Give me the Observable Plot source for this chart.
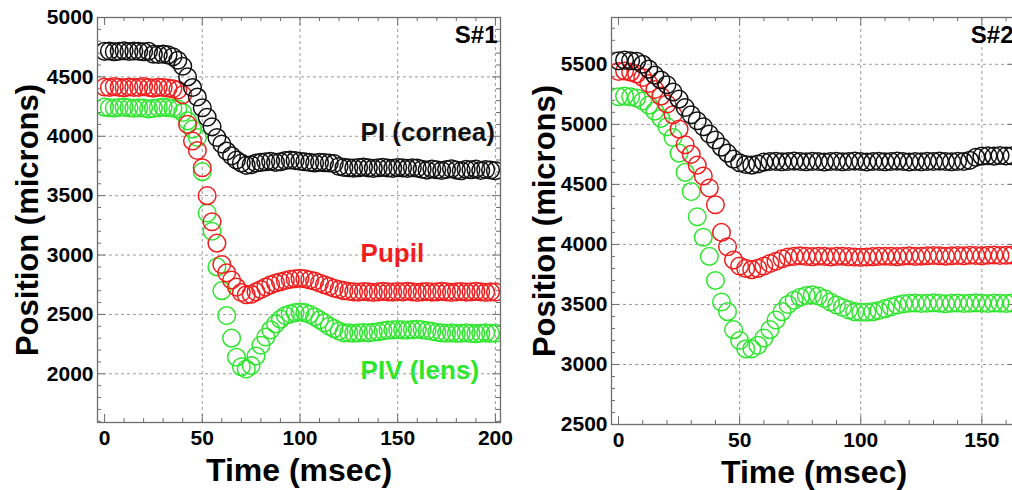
<!DOCTYPE html>
<html><head><meta charset="utf-8">
<script src="https://cdn.jsdelivr.net/npm/d3@7"></script>
<script src="https://cdn.jsdelivr.net/npm/@observablehq/plot@0.6"></script>
<style>
body{margin:0;background:#fff}
#wrap{position:relative;width:1012px;height:490px;overflow:hidden;background:#fff}
#wrap svg{position:absolute;top:0}
</style></head><body><div id="wrap"></div>
<script>
// ---------- data ----------
const timeS1 = [0,2.5,5,7.5,10,12.5,15,17.5,20,22.5,25,27.5,30,32.5,35,37.5,40,42.5,45,47.5,50,52.5,55,57.5,60,62.5,65,67.5,70,72.5,75,77.5,80,82.5,85,87.5,90,92.5,95,97.5,100,102.5,105,107.5,110,112.5,115,117.5,120,122.5,125,127.5,130,132.5,135,137.5,140,142.5,145,147.5,150,152.5,155,157.5,160,162.5,165,167.5,170,172.5,175,177.5,180,182.5,185,187.5,190,192.5,195,197.5,200];
const corneaS1 = [4715,4718,4712,4716,4720,4714,4718,4716,4712,4715,4690,4688,4692,4685,4670,4640,4590,4500,4410,4330,4240,4160,4080,3990,3935,3875,3835,3800,3775,3755,3760,3775,3780,3785,3790,3780,3785,3795,3800,3795,3790,3785,3780,3775,3780,3778,3775,3770,3745,3738,3735,3732,3736,3740,3734,3730,3735,3738,3733,3730,3736,3734,3730,3735,3732,3722,3715,3725,3718,3712,3720,3726,3715,3710,3722,3718,3725,3712,3720,3716,3710];
const pupilS1 = [4415,4410,4418,4412,4408,4415,4410,4412,4418,4410,4405,4412,4410,4405,4400,4390,4350,4100,3960,3880,3735,3500,3280,3100,2920,2850,2790,2730,2685,2665,2670,2690,2710,2730,2750,2765,2775,2785,2795,2800,2805,2800,2790,2780,2765,2750,2735,2720,2710,2700,2695,2690,2688,2692,2690,2686,2690,2694,2690,2688,2692,2690,2695,2690,2686,2690,2692,2688,2690,2694,2690,2686,2690,2692,2688,2690,2694,2690,2686,2690,2688];
const lensS1 = [4245,4240,4238,4242,4245,4240,4236,4240,4238,4230,4235,4240,4245,4240,4238,4230,4200,4130,4060,3990,3702,3354,3200,2900,2700,2490,2300,2140,2060,2040,2070,2150,2240,2310,2370,2420,2460,2490,2505,2515,2520,2515,2500,2480,2455,2430,2400,2380,2360,2345,2345,2342,2345,2348,2345,2350,2355,2362,2368,2370,2372,2370,2368,2372,2375,2370,2365,2358,2350,2345,2342,2345,2340,2342,2345,2340,2338,2342,2345,2340,2342];

const timeS2 = [0,2.5,5,7.5,10,12.5,15,17.5,20,22.5,25,27.5,30,32.5,35,37.5,40,42.5,45,47.5,50,52.5,55,57.5,60,62.5,65,67.5,70,72.5,75,77.5,80,82.5,85,87.5,90,92.5,95,97.5,100,102.5,105,107.5,110,112.5,115,117.5,120,122.5,125,127.5,130,132.5,135,137.5,140,142.5,145,147.5,150,152.5,155,157.5,160,162.5];
const corneaS2 = [5530,5535,5530,5525,5500,5460,5410,5370,5330,5270,5210,5140,5080,5030,4980,4920,4870,4810,4760,4710,4680,4665,4660,4670,4685,4690,4692,4688,4690,4694,4690,4688,4692,4690,4686,4690,4692,4688,4690,4694,4690,4686,4690,4692,4688,4690,4694,4690,4686,4690,4688,4692,4690,4694,4690,4688,4692,4690,4700,4725,4735,4738,4735,4740,4736,4738];
const pupilS2 = [5440,5445,5435,5420,5390,5340,5290,5235,5170,5080,4960,4830,4750,4660,4570,4470,4330,4100,3980,3870,3820,3800,3790,3800,3820,3840,3860,3880,3895,3900,3905,3900,3898,3902,3900,3896,3900,3902,3898,3895,3892,3895,3898,3900,3902,3900,3898,3902,3905,3900,3902,3905,3908,3905,3902,3906,3908,3905,3910,3908,3905,3910,3912,3908,3910,3912];
const lensS2 = [5230,5235,5230,5220,5195,5160,5110,5050,4980,4890,4760,4600,4440,4230,4060,3900,3700,3520,3440,3290,3200,3130,3130,3160,3220,3290,3370,3440,3500,3535,3560,3575,3580,3570,3550,3520,3495,3475,3455,3440,3435,3435,3440,3450,3465,3480,3495,3505,3510,3512,3508,3510,3514,3510,3506,3510,3512,3508,3510,3514,3510,3508,3512,3510,3508,3512];

const seriesNames = ["PIV (lens)", "Pupil", "PI (cornea)"];
const seriesColors = ["#2fe62f", "#f01e1e", "#111111"];

// tick labels / tick positions
const xMajorS1 = [0,50,100,150,200];
const xGridS1 = [50,100,150,200];
const xMinorS1 = [10,20,30,40,60,70,80,90,110,120,130,140,160,170,180,190];
const yMajorS1 = [2000,2500,3000,3500,4000,4500,5000];
const yGridS1 = [2000,2500,3000,3500,4000,4500];
const yMinorS1 = [1600,1700,1800,1900,2100,2200,2300,2400,2600,2700,2800,2900,3100,3200,3300,3400,3600,3700,3800,3900,4100,4200,4300,4400,4600,4700,4800,4900];

const xMajorS2 = [0,50,100,150];
const xGridS2 = [50,100,150];
const xMinorS2 = [10,20,30,40,60,70,80,90,110,120,130,140,160];
const yMajorS2 = [2500,3000,3500,4000,4500,5000,5500];
const yGridS2 = [3000,3500,4000,4500,5000,5500];
const yMinorS2 = [2600,2700,2800,2900,3100,3200,3300,3400,3600,3700,3800,3900,4100,4200,4300,4400,4600,4700,4800,4900,5100,5200,5300,5400,5600,5700,5800];

// annotations (data coordinates)
const labelsS1 = [
  {text: "PI (cornea)", x: 131, y: 4030, color: "#111111"},
  {text: "Pupil", x: 131, y: 3015, color: "#f01e1e"},
  {text: "PIV (lens)", x: 131, y: 2030, color: "#2fe62f"}
];

// ---------- build ----------
function rows(time, arrs) {
  const out = [];
  arrs.forEach((vals, k) => vals.forEach((v, i) => out.push({t: time[i], v, s: seriesNames[k]})));
  return out;
}

function panel(cfg) {
  const H = cfg.height - cfg.mt - cfg.mb;
  const W = cfg.width - cfg.ml - cfg.mr;
  const tickStroke = "#6e6e6e";
  const data = rows(cfg.time, cfg.series);
  const marks = [
    Plot.ruleX(cfg.xGrid, {stroke: "#9a9a9a", strokeDasharray: "3,3", strokeWidth: 1}),
    Plot.ruleY(cfg.yGrid, {stroke: "#9a9a9a", strokeDasharray: "3,3", strokeWidth: 1}),
    Plot.tickX(cfg.xMinor, {insetTop: H - 4, stroke: tickStroke}),
    Plot.tickX(cfg.xMinor, {insetBottom: H - 4, stroke: tickStroke}),
    Plot.tickX(cfg.xMajor, {insetTop: H - 8, stroke: tickStroke}),
    Plot.tickX(cfg.xMajor, {insetBottom: H - 8, stroke: tickStroke}),
    Plot.tickY(cfg.yMinor, {insetRight: W - 4, stroke: tickStroke}),
    Plot.tickY(cfg.yMinor, {insetLeft: W - 4, stroke: tickStroke}),
    Plot.tickY(cfg.yMajor, {insetRight: W - 8, stroke: tickStroke}),
    Plot.tickY(cfg.yMajor, {insetLeft: W - 8, stroke: tickStroke}),
    ...seriesNames.map((name, k) =>
      Plot.dot(data.filter(d => d.s === name), {x: "t", y: "v", r: 8.8, stroke: seriesColors[k], strokeWidth: 1.5, fill: "none", clip: true})
    ),
    Plot.frame({stroke: "#6e6e6e", strokeWidth: 1.3}),
    Plot.axisX(cfg.xMajor, {tickSize: 0, tickPadding: 8, label: null, tickFormat: d => String(d), fontSize: 21, fontWeight: "bold"}),
    Plot.axisY(cfg.yMajor, {tickSize: 0, tickPadding: 4, label: null, tickFormat: d => String(d), fontSize: 21, fontWeight: "bold"}),
    Plot.text(["Time (msec)"], {text: d => d, frameAnchor: "bottom", dy: 48, textAnchor: "middle", lineAnchor: "middle", fontSize: 32, fontWeight: "bold"}),
    Plot.text(["Position (microns)"], {text: d => d, frameAnchor: "left", dx: cfg.ylabDx, rotate: -90, textAnchor: "middle", lineAnchor: "middle", fontSize: 31, fontWeight: "bold"}),
    Plot.text([cfg.tag], {text: d => d, frameAnchor: "top-right", dx: -3, dy: 18, textAnchor: "end", lineAnchor: "middle", fontSize: 24, fontWeight: "bold"}),
    ...cfg.labels.map(l => Plot.text([l], {x: d => d.x, y: d => d.y, text: d => d.text, fill: l.color, textAnchor: "start", lineAnchor: "middle", fontSize: 26, fontWeight: "bold"}))
  ];
  const svg = Plot.plot({
    width: cfg.width, height: cfg.height,
    marginLeft: cfg.ml, marginRight: cfg.mr, marginTop: cfg.mt, marginBottom: cfg.mb,
    x: {domain: cfg.xDomain},
    y: {domain: cfg.yDomain},
    style: {fontFamily: "'Liberation Sans', Arial, sans-serif", color: "#000", background: "transparent", overflow: "visible"},
    marks
  });
  svg.style.left = cfg.left + "px";
  return svg;
}

const wrap = document.getElementById("wrap");
wrap.append(panel({
  left: 0, width: 510, height: 490, ml: 97, mr: 10, mt: 17, mb: 68,
  time: timeS1, series: [lensS1, pupilS1, corneaS1],
  xDomain: [-3.6, 202.6], yDomain: [1590, 5000],
  xMajor: xMajorS1, xGrid: xGridS1, xMinor: xMinorS1,
  yMajor: yMajorS1, yGrid: yGridS1, yMinor: yMinorS1,
  ylabDx: -69, tag: "S#1", labels: labelsS1
}));
wrap.append(panel({
  left: 510, width: 516, height: 490, ml: 101, mr: 10, mt: 17, mb: 66,
  time: timeS2, series: [lensS2, pupilS2, corneaS2],
  xDomain: [-2.9, 164.3], yDomain: [2500, 5890],
  xMajor: xMajorS2, xGrid: xGridS2, xMinor: xMinorS2,
  yMajor: yMajorS2, yGrid: yGridS2, yMinor: yMinorS2,
  ylabDx: -66, tag: "S#2", labels: []
}));
</script></body></html>
